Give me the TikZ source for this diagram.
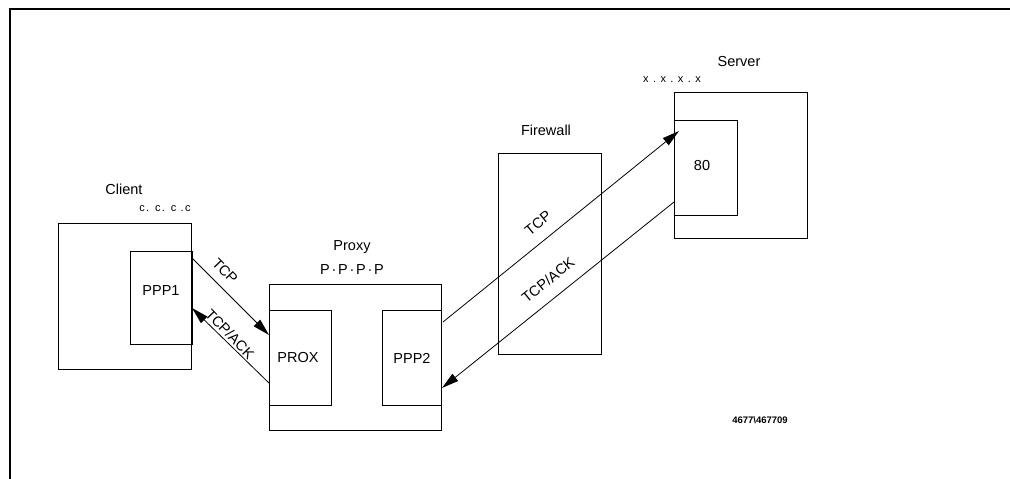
\documentclass[tikz,border=0pt]{standalone}
\usepackage{fontspec}
\setmainfont{Liberation Sans}
\newfontfamily\xspaced[LetterSpace=40]{Liberation Sans}
\newfontfamily\cspaced[LetterSpace=12]{Liberation Sans}
\newfontfamily\pspaced[LetterSpace=12]{Liberation Sans}
\usetikzlibrary{arrows.meta}
\begin{document}
\begin{tikzpicture}[x=1pt,y=-1pt,
  box/.style={draw, line width=1.3pt, inner sep=0pt, anchor=north west},
  lbl/.style={font=\fontsize{14.5}{16}\selectfont, inner sep=0pt},
  small/.style={font=\fontsize{11}{13}\selectfont, inner sep=0pt},
  conn/.style={line width=0.8pt, -{Triangle[length=17pt,width=9pt]}},
  framestyle/.style={line width=1.3pt}]
\useasboundingbox (0,0) rectangle (1010,479);
% frame
\coordinate (frtr) at (1010,9);
\coordinate (frtl) at (10,9);
\coordinate (frbl) at (10,479);
\draw[framestyle] (frtr) -- (frtl) -- (frbl);
% client
\node[box, minimum width=133pt, minimum height=146pt] (client) at (58,223) {};
\node[box, minimum width=62pt, minimum height=93pt] (ppp1) at (130,251) {};
\node[lbl] (clientlbl) at (124,189) {Client};
\node[small] (clientip) at (165,209) {\cspaced c. c. c .c};
\node[lbl] (ppp1lbl) at (161,291) {PPP1};
% proxy
\node[box, minimum width=172pt, minimum height=146pt] (proxy) at (269,284) {};
\node[box, minimum width=62pt, minimum height=95pt] (prox) at (269,310) {};
\node[box, minimum width=59pt, minimum height=95pt] (ppp2) at (382,310) {};
\node[lbl] (proxylbl) at (352,247) {Proxy};
\node[lbl] (proxyip) at (352,270) {\pspaced P·P·P·P};
\node[lbl] (proxlbl) at (298,358) {PROX};
\node[lbl] (ppp2lbl) at (412,358) {PPP2};
% firewall
\node[box, minimum width=103pt, minimum height=201pt] (fw) at (498,153) {};
\node[lbl] (fwlbl) at (546,130) {Firewall};
% server
\node[box, minimum width=133pt, minimum height=146pt] (server) at (674,92) {};
\node[box, minimum width=63pt, minimum height=95pt] (port) at (674,120) {};
\node[lbl] (serverlbl) at (739,62) {Server};
\node[small] (serverip) at (672,80) {\xspaced x.x.x.x};
\node[lbl] (portlbl) at (702,166) {80};
% footer id
\node[font=\bfseries\fontsize{9.5}{11}\selectfont, inner sep=0pt] (figid) at (760,420) {4677\textbackslash467709};
% connectors
\coordinate (a1s) at (192,258);
\coordinate (a1e) at (269,335);
\coordinate (a2s) at (269,383);
\coordinate (a2e) at (192,308);
\coordinate (a3s) at (443,322);
\coordinate (a3e) at (679,131);
\coordinate (a4s) at (674,202);
\coordinate (a4e) at (442,388);
\draw[conn] (a1s) -- (a1e);
\draw[conn] (a2s) -- (a2e);
\draw[conn] (a3s) -- (a3e);
\draw[conn] (a4s) -- (a4e);
\node[lbl, rotate=-46] (t1) at (225,271) {TCP};
\node[lbl, rotate=-46] (t2) at (230,334) {TCP/ACK};
\node[lbl, rotate=39] (t3) at (538,223) {TCP};
\node[lbl, rotate=39] (t4) at (548,280) {TCP/ACK};
\end{tikzpicture}
\end{document}
